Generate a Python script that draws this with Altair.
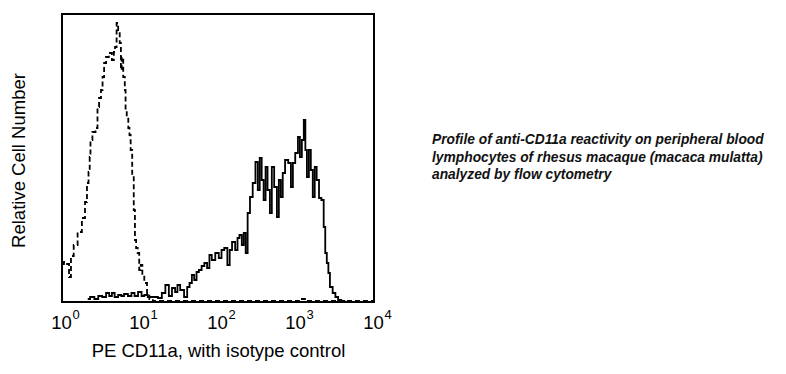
import altair as alt
import pandas as pd

# Isotype control (dashed) : x in decades (log10 of intensity), y relative count
iso_x = [0.00, 0.05, 0.08, 0.10, 0.13, 0.17, 0.23, 0.28, 0.31, 0.33, 0.35, 0.36, 0.37, 0.41, 0.45,
         0.46, 0.49, 0.51, 0.53, 0.55, 0.58, 0.62, 0.66, 0.67, 0.69, 0.71, 0.73, 0.75, 0.76, 0.77,
         0.80, 0.81, 0.82, 0.84, 0.86, 0.87, 0.89, 0.91, 0.93, 0.94, 0.96, 0.98, 1.00, 1.02, 1.04,
         1.07, 1.11, 1.13, 1.20, 1.60, 2.00, 2.50, 3.00, 3.10, 3.13, 3.50, 4.00]
iso_y = [38, 40, 38, 25, 46, 57, 70, 84, 100, 119, 130, 145, 162, 170, 174,
         195, 204, 212, 225, 239, 245, 249, 242, 250, 255, 279, 272, 259, 232, 245,
         225, 212, 192, 185, 174, 167, 152, 127, 92, 62, 54, 49, 32, 37, 27,
         19, 9, 3, 1, 1, 1, 1, 1, 3, 1, 1, 1]

# Anti-CD11a (solid)
cd_x = [0.33, 0.39, 0.44, 0.49, 0.54, 0.59, 0.62, 0.66, 0.69, 0.75, 0.77, 0.82, 0.87, 0.91, 0.95,
        1.00, 1.04, 1.07, 1.13, 1.20, 1.26, 1.30, 1.35, 1.39, 1.43, 1.47, 1.49, 1.54, 1.59, 1.62,
        1.65, 1.68, 1.71, 1.74, 1.77, 1.81, 1.84, 1.88, 1.90, 1.94, 1.99, 2.03, 2.06, 2.10, 2.14,
        2.16, 2.20, 2.24, 2.26, 2.29, 2.32, 2.34, 2.37, 2.39, 2.43, 2.46, 2.50, 2.52, 2.55, 2.57,
        2.60, 2.62, 2.65, 2.68, 2.70, 2.74, 2.77, 2.79, 2.82, 2.84, 2.88, 2.92, 2.95, 2.97, 3.01,
        3.04, 3.06, 3.09, 3.11, 3.13, 3.15, 3.18, 3.20, 3.23, 3.25, 3.28, 3.31, 3.34, 3.37, 3.38,
        3.41, 3.42, 3.45, 3.49, 3.52, 3.56, 3.60, 3.64]
cd_y = [3, 5, 3, 6, 5, 9, 6, 9, 5, 7, 6, 8, 6, 9, 6,
        10, 6, 7, 5, 5, 4, 9, 17, 6, 14, 10, 17, 12, 5, 15,
        19, 27, 22, 30, 32, 36, 39, 34, 47, 42, 49, 44, 52, 54, 37,
        52, 60, 52, 64, 67, 57, 69, 49, 89, 105, 119, 140, 112, 144, 122,
        102, 135, 112, 89, 135, 115, 85, 122, 105, 129, 142, 139, 115, 139, 149,
        165, 145, 162, 182, 152, 125, 152, 132, 105, 135, 122, 104, 102, 75, 49,
        39, 29, 15, 9, 5, 2, 1, 0]

tick_exponents = [0, 1, 2, 3, 4]
tick_exponent_labels = ["0", "1", "2", "3", "4"]
caption_lines = [
    "Profile of anti-CD11a reactivity on peripheral blood",
    "lymphocytes of rhesus macaque (macaca mulatta)",
    "analyzed by flow cytometry",
]

FONT = "Liberation Sans"

iso = pd.DataFrame({"x": iso_x, "y": iso_y})
cd = pd.DataFrame({"x": cd_x, "y": cd_y})
ticks_df = pd.DataFrame({"x": tick_exponents, "e": tick_exponent_labels})
cap = pd.DataFrame({"t": ["\n".join(caption_lines)]})

x_scale = alt.Scale(domain=[0, 4], nice=False, zero=False)
y_scale = alt.Scale(domain=[0, 288], nice=False)

x_axis = alt.Axis(
    values=tick_exponents,
    labelExpr="'10'",
    ticks=False, domain=False, grid=False,
    labelFont=FONT, labelFontSize=18.5, labelColor="black", labelPadding=11,
    labelOffset=-1, labelFlush=False,
    title="PE CD11a, with isotype control",
    titleFont=FONT, titleFontSize=18.5, titleFontWeight="normal", titleColor="black",
    titleY=48, titleBaseline="middle",
)
y_axis = alt.Axis(
    labels=False, ticks=False, domain=False, grid=False,
    title="Relative Cell Number",
    titleFont=FONT, titleFontSize=18.5, titleFontWeight="normal", titleColor="black",
    titleX=-44, titleY=146, titleBaseline="middle", titleAlign="center",
)

iso_line = alt.Chart(iso).mark_line(
    interpolate="step", color="black", strokeWidth=1.8, strokeDash=[5, 3]
).encode(
    x=alt.X("x:Q", scale=x_scale, axis=x_axis),
    y=alt.Y("y:Q", scale=y_scale, axis=y_axis),
)

cd_line = alt.Chart(cd).mark_line(
    interpolate="step", color="black", strokeWidth=1.8
).encode(
    x=alt.X("x:Q", scale=x_scale),
    y=alt.Y("y:Q", scale=y_scale),
)

exponents = alt.Chart(ticks_df).mark_text(
    align="center", baseline="middle", font=FONT, fontSize=13, color="black", dx=14,
).encode(
    x=alt.X("x:Q", scale=x_scale), y=alt.value(301), text="e:N"
)

caption = alt.Chart(cap).mark_text(
    align="left", baseline="top", font=FONT, fontSize=13.8, fontWeight="bold",
    fontStyle="italic", lineBreak="\n", lineHeight=17.5, color="#111111",
).encode(
    x=alt.value(370), y=alt.value(119), text="t:N"
)

chart = alt.layer(iso_line, cd_line, exponents, caption).properties(
    width=312, height=288,
    padding={"left": 54, "top": 6, "right": 400, "bottom": 60},
    autosize=alt.AutoSizeParams(type="none"),
).configure_view(stroke="black", strokeWidth=2)

chart.save("out.html", embed_options={"renderer": "svg", "actions": False})
